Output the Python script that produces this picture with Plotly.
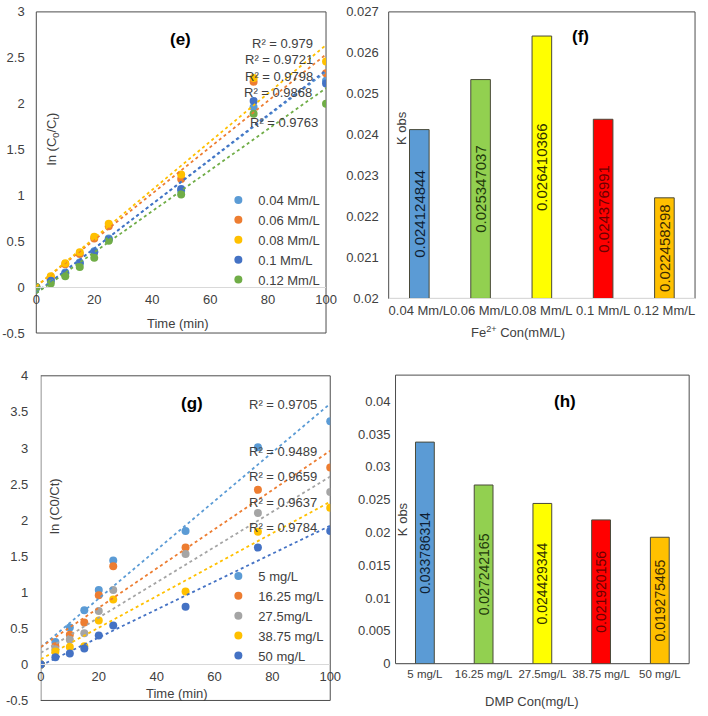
import numpy as np
import plotly.graph_objects as go

# ---------------- data ----------------
TIME = [0, 5, 10, 15, 20, 25, 50, 75, 100]

E_NAMES = ["0.04 Mm/L", "0.06 Mm/L", "0.08 Mm/L", "0.1 Mm/L", "0.12 Mm/L"]
E_004 = [0, 0.08, 0.16, 0.27, 0.39, 0.53, 1.05, 1.96, 2.25]
E_006 = [0, 0.11, 0.25, 0.36, 0.53, 0.665, 1.18, 2.24, 2.33]
E_008 = [0, 0.12, 0.26, 0.38, 0.55, 0.69, 1.227, 2.28, 2.46]
E_010 = [0, 0.07, 0.15, 0.26, 0.38, 0.52, 1.07, 2.03, 2.22]
E_012 = [0, 0.04, 0.12, 0.22, 0.32, 0.505, 1.01, 1.89, 2.00]
E_R2 = ["R² = 0.979", "R² = 0.9721", "R² = 0.9798", "R² = 0.9868", "R² = 0.9763"]
E_YTICKS = [-0.5, 0, 0.5, 1, 1.5, 2, 2.5, 3]
E_YTEXT = ["-0.5", "0", "0.5", "1", "1.5", "2", "2.5", "3"]

G_NAMES = ["5 mg/L", "16.25 mg/L", "27.5mg/L", "38.75 mg/L", "50 mg/L"]
G_5 = [0, 0.31, 0.51, 0.75, 1.03, 1.44, 1.85, 3.01, 3.37]
G_1625 = [0, 0.25, 0.41, 0.58, 0.96, 1.36, 1.62, 2.42, 2.73]
G_275 = [0, 0.21, 0.34, 0.43, 0.74, 1.03, 1.53, 2.10, 2.39]
G_3875 = [0, 0.18, 0.24, 0.25, 0.61, 0.90, 1.01, 1.84, 2.17]
G_50 = [0, 0.10, 0.15, 0.22, 0.40, 0.54, 0.80, 1.62, 1.85]
G_R2 = ["R² = 0.9705", "R² = 0.9489", "R² = 0.9659", "R² = 0.9637", "R² = 0.9784"]
G_YTICKS = [-0.5, 0, 0.5, 1, 1.5, 2, 2.5, 3, 3.5, 4]
G_YTEXT = ["-0.5", "0", "0.5", "1", "1.5", "2", "2.5", "3", "3.5", "4"]

X_TICKS = [0, 20, 40, 60, 80, 100]

F_CATS = ["0.04 Mm/L", "0.06 Mm/L", "0.08 Mm/L", "0.1 Mm/L", "0.12 Mm/L"]
K_F = [0.024124844, 0.025347037, 0.026410366, 0.024376991, 0.022458298]
F_BASE = 0.02
F_YTICKS = [0.02, 0.021, 0.022, 0.023, 0.024, 0.025, 0.026, 0.027]
F_YTEXT = ["0.02", "0.021", "0.022", "0.023", "0.024", "0.025", "0.026", "0.027"]

H_CATS = ["5 mg/L", "16.25 mg/L", "27.5mg/L", "38.75 mg/L", "50 mg/L"]
K_H = [0.033786314, 0.027242165, 0.024429344, 0.021920156, 0.019275465]
H_YTICKS = [0, 0.005, 0.01, 0.015, 0.02, 0.025, 0.03, 0.035, 0.04]
H_YTEXT = ["0", "0.005", "0.01", "0.015", "0.02", "0.025", "0.03", "0.035", "0.04"]

# ---------------- styling ----------------
W, H = 708, 716
FONT = "Arial, 'Liberation Sans', sans-serif"
TXT = "#404040"
AXL = "#D9D9D9"
FRAME = "#4d4d4d"
LINE_COLORS_E = ["#5B9BD5", "#ED7D31", "#FFC000", "#4472C4", "#70AD47"]
LINE_COLORS_G = ["#5B9BD5", "#ED7D31", "#A5A5A5", "#FFC000", "#4472C4"]
BAR_COLORS = ["#5B9BD5", "#92D050", "#FFFF00", "#FF0000", "#FFC000"]
BAR_TEXT = ["#0f1f33", "#1f3a0c", "#333300", "#6b0000", "#3d2b00"]


def px(x):
    return x / W


def py(y):
    return 1 - y / H


# domains (pixel based)
E_X = [px(33), px(329)]
E_Y = [py(333), py(5)]
F_X = [px(393), px(706)]
F_Y = [py(297.7), py(5)]
G_X = [px(37.7), px(333.3)]
G_Y = [py(708.3), py(376.7)]
H_X = [px(400), px(700)]
H_Y = [py(670.7), py(376)]

fig = go.Figure()

E_SERIES = [E_004, E_006, E_008, E_010, E_012]
G_SERIES = [G_5, G_1625, G_275, G_3875, G_50]

tmin, tmax = min(TIME), max(TIME)
for name, ys, c in zip(E_NAMES, E_SERIES, LINE_COLORS_E):
    fig.add_trace(go.Scatter(x=TIME, y=ys, mode="markers", name=name,
                             marker=dict(color=c, size=8),
                             xaxis="x", yaxis="y", legend="legend"))
for name, ys, c in zip(E_NAMES, E_SERIES, LINE_COLORS_E):
    k, b = np.polyfit(TIME, ys, 1)
    fig.add_trace(go.Scatter(x=[tmin, tmax], y=[b + k * tmin, b + k * tmax], mode="lines",
                             line=dict(color=c, width=1.8, dash="dot"), showlegend=False,
                             xaxis="x", yaxis="y", hoverinfo="skip"))

for name, ys, c in zip(G_NAMES, G_SERIES, LINE_COLORS_G):
    fig.add_trace(go.Scatter(x=TIME, y=ys, mode="markers", name=name,
                             marker=dict(color=c, size=8),
                             xaxis="x3", yaxis="y3", legend="legend2"))
for name, ys, c in zip(G_NAMES, G_SERIES, LINE_COLORS_G):
    k, b = np.polyfit(TIME, ys, 1)
    fig.add_trace(go.Scatter(x=[tmin, tmax], y=[b + k * tmin, b + k * tmax], mode="lines",
                             line=dict(color=c, width=1.8, dash="dot"), showlegend=False,
                             xaxis="x3", yaxis="y3", hoverinfo="skip"))

fig.add_trace(go.Bar(x=F_CATS, y=[v - F_BASE for v in K_F], base=F_BASE,
                     marker=dict(color=BAR_COLORS, line=dict(color="#4a4a3a", width=1)),
                     width=0.32, text=[str(v) for v in K_F], textposition="inside",
                     insidetextanchor="middle", textangle=-90, constraintext="none",
                     textfont=dict(size=15, color=BAR_TEXT, family=FONT),
                     showlegend=False, xaxis="x2", yaxis="y2"))
fig.add_trace(go.Bar(x=H_CATS, y=K_H,
                     marker=dict(color=BAR_COLORS, line=dict(color="#4a4a3a", width=1)),
                     width=0.32, text=[str(v) for v in K_H], textposition="inside",
                     insidetextanchor="middle", textangle=-90, constraintext="none",
                     textfont=dict(size=14, color=BAR_TEXT, family=FONT),
                     showlegend=False, xaxis="x4", yaxis="y4"))

e_zero = E_Y[0] + (0 - E_YTICKS[0]) / (E_YTICKS[-1] - E_YTICKS[0]) * (E_Y[1] - E_Y[0])
g_zero = G_Y[0] + (0 - G_YTICKS[0]) / (G_YTICKS[-1] - G_YTICKS[0]) * (G_Y[1] - G_Y[0])

tickfont = dict(size=13, color=TXT, family=FONT)
common = dict(showgrid=False, zeroline=False, ticks="", tickfont=tickfont)

fig.update_layout(
    width=W, height=H, autosize=False,
    margin=dict(l=0, r=0, t=0, b=0, pad=0),
    paper_bgcolor="white", plot_bgcolor="white",
    font=dict(family=FONT, color=TXT, size=13),
    xaxis=dict(domain=E_X, range=[0, 100], anchor="free", position=e_zero,
               showline=True, linecolor=AXL, linewidth=1, tickvals=X_TICKS, **common),
    yaxis=dict(domain=E_Y, range=[E_YTICKS[0], E_YTICKS[-1]], anchor="x",
               showline=True, linecolor=AXL, linewidth=1,
               tickvals=E_YTICKS, ticktext=E_YTEXT, ticklabelstandoff=8, **common),
    xaxis2=dict(domain=F_X, anchor="y2", showline=True, linecolor=AXL, linewidth=1,
                tickangle=0, **common),
    yaxis2=dict(domain=F_Y, range=[F_YTICKS[0], F_YTICKS[-1]], anchor="x2", showline=False,
                tickvals=F_YTICKS, ticktext=F_YTEXT, ticklabelstandoff=9, **common),
    xaxis3=dict(domain=G_X, range=[0, 100], anchor="free", position=g_zero,
                showline=True, linecolor=AXL, linewidth=1, tickvals=X_TICKS, **common),
    yaxis3=dict(domain=G_Y, range=[G_YTICKS[0], G_YTICKS[-1]], anchor="x3",
                showline=True, linecolor=AXL, linewidth=1,
                tickvals=G_YTICKS, ticktext=G_YTEXT, ticklabelstandoff=9, **common),
    xaxis4=dict(domain=H_X, anchor="y4", showline=True, linecolor=AXL, linewidth=1,
                showgrid=False, zeroline=False, ticks="", tickangle=0,
                tickfont=dict(size=11.5, color=TXT, family=FONT)),
    yaxis4=dict(domain=H_Y, range=[0, 0.044], anchor="x4", showline=False,
                tickvals=H_YTICKS, ticktext=H_YTEXT, ticklabelstandoff=4, **common),
    legend=dict(x=px(219), y=py(238), xanchor="left", yanchor="middle",
                bgcolor="rgba(0,0,0,0)", font=dict(size=13, color=TXT, family=FONT),
                tracegroupgap=0, itemwidth=30),
    legend2=dict(x=px(219), y=py(622), xanchor="left", yanchor="middle",
                 bgcolor="rgba(0,0,0,0)", font=dict(size=13, color=TXT, family=FONT),
                 tracegroupgap=0, itemwidth=30),
)

# frames
for xr, yr in [("x", "y"), ("x2", "y2"), ("x3", "y3"), ("x4", "y4")]:
    fig.add_shape(type="rect", xref=xr + " domain", yref=yr + " domain",
                  x0=0, x1=1, y0=0, y1=1, line=dict(color=FRAME, width=1), layer="below")

ann = []


def add_text(x, y, text, size=13, bold=False, angle=0, xanchor="center"):
    ann.append(dict(x=px(x), y=py(y), xref="paper", yref="paper", text=text,
                    showarrow=False, textangle=angle, xanchor=xanchor, yanchor="middle",
                    font=dict(size=size, color="#000000" if bold else TXT, family=FONT,
                              weight="bold" if bold else "normal")))


add_text(180, 33, "(e)", 17, True)
add_text(589, 30, "(f)", 17, True)
add_text(192, 405, "(g)", 17, True)
add_text(573, 403, "(h)", 17, True)
add_text(177.5, 323, "Time (min)")
add_text(176.7, 701.7, "Time (min)")
add_text(525, 332, "Fe<sup>2+</sup> Con(mM/L)")
add_text(539.7, 709, "DMP Con(mg/L)")
add_text(49, 135, "ln (C<sub>0</sub>/C<sub>t</sub>)", angle=-90)
add_text(51.7, 510, "ln (C0/Ct)", angle=-90)
add_text(406.7, 123.5, "K obs", angle=-90)
add_text(406.7, 523, "K obs", angle=-90)

E_R2_POS = [(318, 37.7), (318, 53.3), (318, 71), (317, 87.3), (323, 118.3)]
for t, (x, y) in zip(E_R2, E_R2_POS):
    add_text(x, y, t, xanchor="right")
G_R2_POS = [(321.7, 406), (321.7, 454.3), (321.7, 480), (321.7, 505.7), (321.7, 531.7)]
for t, (x, y) in zip(G_R2, G_R2_POS):
    add_text(x, y, t, xanchor="right")

fig.update_layout(annotations=ann)
fig.write_html("out.html", config={"displayModeBar": False},
               post_script="document.body.style.margin='0';document.body.style.overflow='hidden';")
